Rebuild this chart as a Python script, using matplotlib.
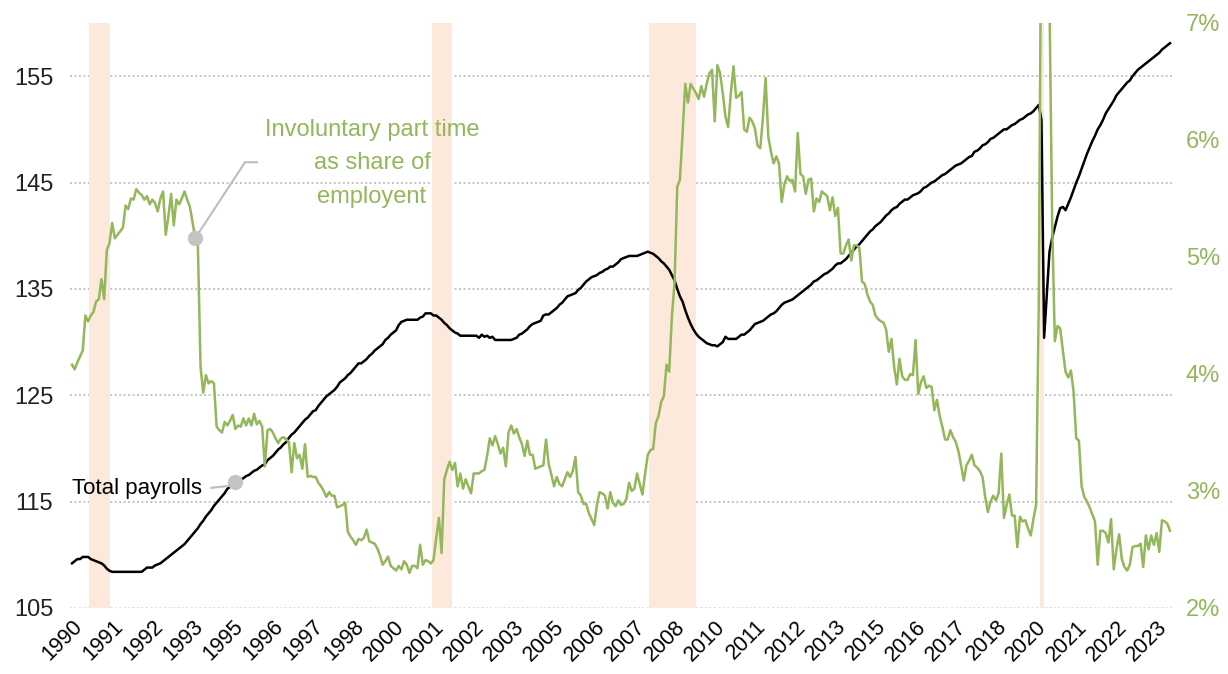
import numpy as np
import pandas as pd
import matplotlib
matplotlib.use("Agg")
import matplotlib.pyplot as plt

plt.rcParams['font.family'] = ['Liberation Sans', 'DejaVu Sans']

# monthly, Jan 1990 - Mar 2024
start_month = "1990-01"

# total nonfarm payrolls, millions (left axis)
payrolls = [
    109.2, 109.4, 109.6, 109.6, 109.8, 109.8, 109.8, 109.6, 109.5, 109.4, 109.3, 109.2,  # 1990
    109.0, 108.7, 108.5, 108.4, 108.4, 108.4, 108.4, 108.4, 108.4, 108.4, 108.4, 108.4,  # 1991
    108.4, 108.4, 108.4, 108.6, 108.8, 108.8, 108.8, 109.0, 109.1, 109.2, 109.4, 109.6,  # 1992
    109.8, 110.0, 110.2, 110.4, 110.6, 110.8, 111.0, 111.3, 111.6, 111.9, 112.2, 112.5,  # 1993
    112.9, 113.2, 113.6, 113.9, 114.2, 114.6, 114.9, 115.2, 115.5, 115.8, 116.2, 116.4,  # 1994
    116.6, 116.8, 117.0, 117.1, 117.2, 117.4, 117.5, 117.7, 117.9, 118.0, 118.2, 118.4,  # 1995
    118.5, 118.9, 119.1, 119.3, 119.6, 119.9, 120.1, 120.4, 120.6, 121.0, 121.3, 121.5,  # 1996
    121.8, 122.1, 122.4, 122.7, 122.9, 123.2, 123.5, 123.6, 124.0, 124.3, 124.6, 124.9,  # 1997
    125.1, 125.3, 125.5, 125.8, 126.2, 126.4, 126.6, 126.9, 127.1, 127.4, 127.7, 128.0,  # 1998
    128.0, 128.2, 128.4, 128.7, 128.9, 129.2, 129.4, 129.6, 129.8, 130.2, 130.4, 130.7,  # 1999
    130.9, 131.1, 131.6, 131.9, 132.0, 132.1, 132.1, 132.1, 132.1, 132.1, 132.3, 132.4,  # 2000
    132.7, 132.7, 132.7, 132.5, 132.5, 132.3, 132.1, 131.8, 131.6, 131.3, 131.1, 130.9,  # 2001
    130.8, 130.6, 130.6, 130.6, 130.6, 130.6, 130.6, 130.6, 130.4, 130.7, 130.5, 130.6,  # 2002
    130.4, 130.5, 130.2, 130.2, 130.2, 130.2, 130.2, 130.2, 130.2, 130.3, 130.4, 130.7,  # 2003
    130.8, 131.0, 131.2, 131.5, 131.7, 131.8, 131.9, 132.0, 132.5, 132.6, 132.6, 132.8,  # 2004
    133.0, 133.2, 133.5, 133.7, 134.0, 134.3, 134.4, 134.5, 134.6, 134.9, 135.1, 135.4,  # 2005
    135.7, 135.9, 136.1, 136.2, 136.3, 136.5, 136.6, 136.8, 136.9, 137.1, 137.1, 137.3,  # 2006
    137.5, 137.8, 137.9, 138.0, 138.1, 138.1, 138.1, 138.1, 138.2, 138.3, 138.4, 138.5,  # 2007
    138.4, 138.3, 138.1, 137.9, 137.6, 137.4, 137.1, 136.8, 136.3, 135.8, 135.0, 134.3,  # 2008
    133.8, 133.0, 132.3, 131.7, 131.2, 130.8, 130.5, 130.3, 130.1, 129.9, 129.8, 129.7,  # 2009
    129.7, 129.6, 129.8, 130.0, 130.5, 130.3, 130.3, 130.3, 130.3, 130.5, 130.7, 130.7,  # 2010
    130.9, 131.1, 131.4, 131.7, 131.8, 131.9, 132.0, 132.2, 132.4, 132.6, 132.7, 132.9,  # 2011
    133.2, 133.5, 133.7, 133.8, 133.9, 134.0, 134.2, 134.4, 134.6, 134.8, 135.0, 135.2,  # 2012
    135.4, 135.7, 135.8, 136.0, 136.2, 136.4, 136.5, 136.7, 136.9, 137.2, 137.4, 137.4,  # 2013
    137.6, 137.8, 138.1, 138.4, 138.7, 139.0, 139.2, 139.5, 139.8, 140.1, 140.4, 140.6,  # 2014
    140.9, 141.1, 141.3, 141.6, 141.9, 142.1, 142.4, 142.6, 142.7, 143.0, 143.2, 143.4,  # 2015
    143.4, 143.6, 143.8, 143.9, 144.0, 144.2, 144.5, 144.6, 144.8, 145.0, 145.1, 145.3,  # 2016
    145.5, 145.7, 145.8, 146.0, 146.2, 146.4, 146.6, 146.7, 146.8, 147.0, 147.2, 147.4,  # 2017
    147.5, 147.9, 148.0, 148.2, 148.5, 148.6, 148.8, 149.1, 149.2, 149.4, 149.6, 149.8,  # 2018
    150.0, 150.0, 150.2, 150.4, 150.5, 150.7, 150.9, 151.0, 151.2, 151.4, 151.5, 151.7,  # 2019
    152.0, 152.3, 150.9, 130.4, 134.5, 138.5, 139.8, 140.8, 141.8, 142.6, 142.7, 142.4,  # 2020
    143.0, 143.6, 144.3, 145.0, 145.6, 146.3, 147.0, 147.7, 148.3, 148.9, 149.4, 150.0,  # 2021
    150.4, 150.9, 151.5, 151.9, 152.3, 152.7, 153.2, 153.5, 153.8, 154.1, 154.4, 154.6,  # 2022
    155.0, 155.3, 155.6, 155.8, 156.0, 156.2, 156.4, 156.6, 156.8, 157.0, 157.2, 157.5,  # 2023
    157.7, 157.9, 158.1,                                                                 # 2024
]

# involuntary part time as % of employment (right axis)
invol_pt = [
    4.08, 4.04, 4.10, 4.15, 4.20, 4.50, 4.45, 4.50, 4.53, 4.62, 4.64, 4.81,  # 1990
    4.64, 5.06, 5.12, 5.29, 5.16, 5.19, 5.22, 5.25, 5.44, 5.41, 5.50, 5.49,  # 1991
    5.58, 5.55, 5.53, 5.49, 5.52, 5.45, 5.49, 5.46, 5.39, 5.50, 5.56, 5.19,  # 1992
    5.35, 5.54, 5.27, 5.49, 5.45, 5.50, 5.56, 5.49, 5.43, 5.30, 5.16, 5.10,  # 1993
    4.06, 3.84, 3.99, 3.92, 3.94, 3.92, 3.55, 3.52, 3.50, 3.59, 3.56, 3.60,  # 1994
    3.65, 3.53, 3.56, 3.55, 3.62, 3.56, 3.62, 3.56, 3.66, 3.57, 3.60, 3.55,  # 1995
    3.21, 3.52, 3.53, 3.50, 3.45, 3.41, 3.45, 3.46, 3.44, 3.42, 3.16, 3.41,  # 1996
    3.28, 3.31, 3.19, 3.40, 3.12, 3.13, 3.12, 3.12, 3.07, 3.04, 3.00, 2.95,  # 1997
    2.99, 2.96, 2.96, 2.86, 2.87, 2.88, 2.90, 2.65, 2.61, 2.58, 2.54, 2.59,  # 1998
    2.58, 2.60, 2.67, 2.57, 2.56, 2.55, 2.51, 2.45, 2.37, 2.40, 2.44, 2.36,  # 1999
    2.34, 2.32, 2.36, 2.33, 2.40, 2.37, 2.30, 2.36, 2.36, 2.34, 2.54, 2.37,  # 2000
    2.41, 2.40, 2.38, 2.41, 2.60, 2.77, 2.47, 3.10, 3.18, 3.25, 3.18, 3.24,  # 2001
    3.04, 3.15, 3.02, 3.10, 3.04, 2.98, 3.15, 3.15, 3.15, 3.17, 3.18, 3.30,  # 2002
    3.45, 3.39, 3.47, 3.40, 3.32, 3.37, 3.21, 3.50, 3.56, 3.49, 3.53, 3.46,  # 2003
    3.40, 3.30, 3.43, 3.31, 3.31, 3.19, 3.20, 3.21, 3.22, 3.44, 3.23, 3.14,  # 2004
    3.04, 3.12, 3.06, 3.04, 3.10, 3.16, 3.12, 3.17, 3.29, 2.99, 2.96, 2.89,  # 2005
    2.89, 2.81, 2.76, 2.71, 2.88, 2.99, 2.98, 2.96, 2.85, 2.99, 2.90, 2.87,  # 2006
    2.92, 2.88, 2.89, 2.93, 3.07, 3.00, 3.02, 3.15, 3.06, 2.97, 3.15, 3.31,  # 2007
    3.35, 3.36, 3.58, 3.64, 3.76, 3.81, 4.08, 4.02, 4.49, 4.78, 5.60, 5.66,  # 2008
    6.06, 6.48, 6.32, 6.48, 6.44, 6.40, 6.35, 6.46, 6.37, 6.48, 6.57, 6.60,  # 2009
    6.16, 6.64, 6.57, 6.40, 6.20, 6.11, 6.40, 6.63, 6.36, 6.38, 6.41, 6.09,  # 2010
    6.07, 6.19, 6.16, 6.10, 5.95, 5.93, 6.19, 6.53, 6.03, 5.90, 5.80, 5.86,  # 2011
    5.80, 5.47, 5.62, 5.69, 5.65, 5.66, 5.56, 6.06, 5.71, 5.69, 5.54, 5.66,  # 2012
    5.67, 5.39, 5.50, 5.47, 5.56, 5.54, 5.52, 5.40, 5.51, 5.35, 5.42, 5.03,  # 2013
    5.03, 5.10, 5.15, 4.97, 5.10, 5.10, 5.08, 4.79, 4.77, 4.68, 4.62, 4.59,  # 2014
    4.50, 4.47, 4.45, 4.44, 4.38, 4.19, 4.30, 4.06, 3.91, 4.13, 3.98, 3.95,  # 2015
    3.95, 4.00, 3.99, 4.29, 3.83, 3.93, 3.98, 3.88, 3.90, 3.89, 3.69, 3.78,  # 2016
    3.64, 3.55, 3.44, 3.44, 3.52, 3.46, 3.42, 3.34, 3.22, 3.09, 3.22, 3.26,  # 2017
    3.31, 3.22, 3.20, 3.17, 3.12, 2.95, 2.82, 2.91, 2.96, 2.92, 2.98, 3.32,  # 2018
    2.77, 2.88, 2.97, 2.79, 2.79, 2.52, 2.78, 2.74, 2.75, 2.68, 2.62, 2.76,  # 2019
    2.88, 4.60, 8.40, 8.90, 8.30, 7.20, 5.30, 4.28, 4.41, 4.39, 4.20, 4.02,  # 2020
    3.97, 4.03, 3.85, 3.45, 3.43, 3.04, 2.95, 2.91, 2.86, 2.80, 2.74, 2.37,  # 2021
    2.66, 2.66, 2.64, 2.56, 2.76, 2.33, 2.50, 2.63, 2.42, 2.35, 2.32, 2.37,  # 2022
    2.52, 2.53, 2.53, 2.55, 2.35, 2.62, 2.50, 2.62, 2.54, 2.64, 2.48, 2.75,  # 2023
    2.74, 2.72, 2.66,                                                        # 2024
]

# NBER recessions (first month, last month)
recessions = [("1990-07", "1991-03"), ("2001-03", "2001-11"),
              ("2007-12", "2009-06"), ("2020-02", "2020-04")]

left_ticks = [105, 115, 125, 135, 145, 155]
right_ticks = [2, 3, 4, 5, 6, 7]

GREEN = "#93b75a"
PEACH = "#fde9dc"
GRID = "#c4c4c4"

months = pd.period_range(start_month, periods=len(payrolls), freq="M")
x = np.arange(len(months))


def month_pos(m):
    return (pd.Period(m, freq="M") - months[0]).n


fig = plt.figure(figsize=(12.28, 6.74), dpi=100)
ax = fig.add_axes([70 / 1228, 1 - 608 / 674, 1102 / 1228, 585 / 674])
ax2 = ax.twinx()

ax.set_xlim(-0.75, len(x) - 0.25)
ax.set_ylim(105, 160)
ax2.set_ylim(2, 7)

# grid first, recession bars over it
for v in left_ticks[1:]:
    ax.axhline(v, color=GRID, lw=1.4, dashes=(1, 1.3), zorder=0)
ax.axhline(105, color="#f4d6c6", lw=1.4, dashes=(1, 1.3), zorder=0)
for s, e in recessions:
    ax.axvspan(month_pos(s) + 0.5, month_pos(e), color=PEACH, lw=0, zorder=1)

ax.plot(x, payrolls, color="black", lw=1.8, zorder=3)
ax2.plot(x, invol_pt, color=GREEN, lw=1.8, zorder=3)

# ticks
tick_idx = x[::15]
ax.set_xticks(tick_idx)
ax.set_xticklabels([str(months[i].year) for i in tick_idx], rotation=45,
                   ha="right", va="top", rotation_mode="anchor", fontsize=15.5)
ax.set_yticks(left_ticks)
ax.set_yticklabels([str(v) for v in left_ticks], fontsize=17, color="#222222")
ax2.set_yticks(right_ticks)
ax2.set_yticklabels([f"{v}%" for v in right_ticks], fontsize=17, color=GREEN)
ax.tick_params(axis="both", length=0)
ax.tick_params(axis="y", pad=12)
ax.tick_params(axis="x", pad=6)
ax2.tick_params(axis="y", length=0, pad=10)
for a in (ax, ax2):
    for sp in a.spines.values():
        sp.set_visible(False)

# annotations
i_pt = 46
ax2.plot([i_pt, 64.6, 69.1], [invol_pt[i_pt], 5.81, 5.81], color="#bdbdbd", lw=1.5, zorder=4)
ax2.plot(i_pt, invol_pt[i_pt], "o", color="#c3c3c3", ms=10, zorder=5)
ax2.text(112, 5.80, "Involuntary part time\nas share of\nemployent", color=GREEN,
         fontsize=17, ha="center", va="center", linespacing=1.68)

i_pay = 61
ax.plot([52.0, 59.5], [116.3, 116.5], color="#bdbdbd", lw=1.5, zorder=4)
ax.plot(i_pay, payrolls[i_pay], "o", color="#c3c3c3", ms=10, zorder=5)
ax.text(48.5, 116.2, "Total payrolls", color="black", fontsize=16,
        ha="right", va="center")

fig.savefig("out.png", dpi=100)
